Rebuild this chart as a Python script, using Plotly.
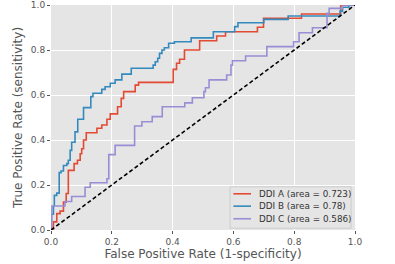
import plotly.graph_objects as go

# ROC step points: at fpr[i] the curve rises to tpr[i]
fpr_a = [0, 0.008, 0.019, 0.03, 0.041, 0.05, 0.057, 0.076, 0.087, 0.096, 0.101, 0.107, 0.116,
         0.151, 0.167, 0.184, 0.195, 0.219, 0.231, 0.239, 0.277, 0.288, 0.402, 0.413, 0.423,
         0.439, 0.489, 0.545, 0.574, 0.679, 0.699, 0.824, 0.953, 1.0]
tpr_a = [0, 0.036, 0.073, 0.084, 0.124, 0.162, 0.265, 0.295, 0.31, 0.339, 0.361, 0.40, 0.432,
         0.452, 0.467, 0.492, 0.516, 0.548, 0.585, 0.615, 0.644, 0.656, 0.714, 0.741, 0.759,
         0.80, 0.841, 0.862, 0.881, 0.901, 0.941, 0.96, 1.0, 1.0]

fpr_b = [0, 0, 0.008, 0.011, 0.019, 0.027, 0.033, 0.041, 0.052, 0.057, 0.063, 0.068, 0.079,
         0.088, 0.107, 0.131, 0.138, 0.167, 0.178, 0.195, 0.211, 0.233, 0.264, 0.336, 0.343,
         0.351, 0.357, 0.365, 0.373, 0.387, 0.406, 0.461, 0.534, 0.604, 0.615, 0.70, 0.78,
         0.951, 0.959, 0.98, 1.0]
tpr_b = [0, 0.07, 0.107, 0.154, 0.164, 0.255, 0.262, 0.287, 0.295, 0.31, 0.354, 0.39, 0.436,
         0.492, 0.544, 0.593, 0.608, 0.625, 0.637, 0.652, 0.667, 0.693, 0.719, 0.733, 0.748,
         0.763, 0.785, 0.80, 0.81, 0.83, 0.837, 0.854, 0.881, 0.904, 0.921, 0.936, 0.951,
         0.973, 0.99, 1.0, 1.0]

fpr_c = [0, 0.003, 0.046, 0.068, 0.112, 0.129, 0.184, 0.19, 0.211, 0.275, 0.299, 0.333, 0.366,
         0.44, 0.465, 0.503, 0.508, 0.52, 0.578, 0.592, 0.597, 0.64, 0.71, 0.798, 0.816, 0.86,
         0.908, 0.915, 0.959, 1.0]
tpr_c = [0, 0.107, 0.127, 0.149, 0.19, 0.21, 0.228, 0.335, 0.376, 0.462, 0.481, 0.504, 0.548,
         0.565, 0.588, 0.615, 0.632, 0.667, 0.689, 0.733, 0.752, 0.773, 0.815, 0.837, 0.877,
         0.899, 0.963, 0.985, 1.0, 1.0]

names = ["DDI A (area = 0.723)", "DDI B (area = 0.78)", "DDI C (area = 0.586)"]
colors = ["#E24A33", "#348ABD", "#988ED5"]
ticks = [0.0, 0.2, 0.4, 0.6, 0.8, 1.0]
tick_text = ["0.0", "0.2", "0.4", "0.6", "0.8", "1.0"]
diag = [0, 1]

fig = go.Figure()
for fx, ty, nm, col in zip([fpr_a, fpr_b, fpr_c], [tpr_a, tpr_b, tpr_c], names, colors):
    fig.add_trace(go.Scatter(x=fx, y=ty, mode="lines", name=nm, showlegend=False,
                             line=dict(color=col, width=1.6, shape="hv")))
fig.add_trace(go.Scatter(x=diag, y=diag, mode="lines", showlegend=False,
                         line=dict(color="black", width=1.6, dash="4px,2.5px")))

# compact legend (matplotlib-like) built from shapes and annotations
fig.add_shape(type="rect", xref="x", yref="y", x0=0.589, x1=0.987, y0=0.008, y1=0.192,
              fillcolor="#E5E5E5", line=dict(color="#CCCCCC", width=1), layer="above")
row_y = [0.161, 0.106, 0.050]
for nm, col, ry in zip(names, colors, row_y):
    fig.add_shape(type="line", xref="x", yref="y", x0=0.600, x1=0.658, y0=ry, y1=ry,
                  line=dict(color=col, width=1.6), layer="above")
    fig.add_annotation(x=0.676, y=ry, xref="x", yref="y", text=nm, showarrow=False,
                       xanchor="left", yanchor="middle",
                       font=dict(size=8.8, color="#333333", family="DejaVu Sans"))

axis_common = dict(
    range=[0, 1], tickvals=ticks, ticktext=tick_text, automargin=False,
    showgrid=True, gridcolor="white", gridwidth=1, zeroline=False,
    ticks="outside", ticklen=3, tickcolor="#555555", tickwidth=1,
    tickfont=dict(size=9, color="#555555"), showline=False,
)

fig.update_layout(
    width=395, height=264,
    margin=dict(l=51, r=40, t=5, b=34, autoexpand=False),
    paper_bgcolor="white", plot_bgcolor="#E5E5E5",
    font=dict(family="DejaVu Sans", color="#555555"),
    xaxis=dict(**axis_common, title=dict(text="False Positive Rate (1-specificity)",
                                         font=dict(size=12, color="#555555"), standoff=3)),
    yaxis=dict(**axis_common, title=dict(text="True Positive Rate (sensitivity)",
                                         font=dict(size=12, color="#555555"), standoff=5)),
    showlegend=False,
)

fig.write_html("out.html",
               config={"displayModeBar": False},
               post_script="document.body.style.margin='0';document.body.style.overflow='hidden';")
